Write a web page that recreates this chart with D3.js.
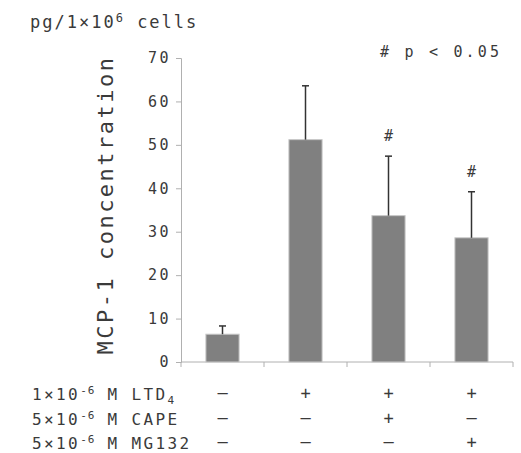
<!DOCTYPE html>
<html lang="en">
<head>
<meta charset="UTF-8">
<title>MCP-1 concentration</title>
<script src="https://d3js.org/d3.v7.min.js"></script>
<style>
  body { margin: 0; background: #fff; }
  svg text { font-family: "DejaVu Sans Mono", monospace; fill: #3a3a3a; }
</style>
</head>
<body>
<div id="chart"></div>
<script>
// data
const groups = ["control", "LTD4", "LTD4+CAPE", "LTD4+MG132"];
const means = [6.4, 51.2, 33.7, 28.6];
const errors = [1.9, 12.4, 13.7, 10.6];
const marks = ["", "", "#", "#"];
const yTicks = [0, 10, 20, 30, 40, 50, 60, 70];
const rowLabels = ["LTD", "CAPE", "MG132"];
const rowConc = ["1", "5", "5"];
const rowSigns = [
  ["—", "+", "+", "+"],
  ["—", "—", "+", "—"],
  ["—", "—", "—", "+"]
];

const W = 521, H = 453;
const margin = {top: 58, right: 8, bottom: 91, left: 181};

const svg = d3.select("#chart").append("svg")
  .attr("width", W)
  .attr("height", H);

const x = d3.scaleBand()
  .domain(groups)
  .range([margin.left, W - margin.right])
  .paddingInner(0.6)
  .paddingOuter(0.3);

const y = d3.scaleLinear()
  .domain([0, 70])
  .range([H - margin.bottom, margin.top]);

// y axis
const yAxis = svg.append("g")
  .attr("transform", "translate(" + margin.left + ",0)")
  .call(d3.axisLeft(y).tickValues(yTicks).tickSize(5).tickPadding(5));
yAxis.select(".domain").attr("stroke", "#b0b0b0");
yAxis.selectAll(".tick line").attr("stroke", "#b0b0b0");
yAxis.selectAll(".tick text")
  .attr("font-size", 15)
  .attr("font-family", "DejaVu Sans Mono")
  .attr("letter-spacing", 2.5)
  .attr("fill", "#3a3a3a");

// x axis line with category dividers
const xEdges = d3.range(groups.length + 1).map(i => margin.left + i * (W - margin.right - margin.left) / groups.length);
svg.append("line")
  .attr("x1", margin.left).attr("x2", W - margin.right)
  .attr("y1", y(0)).attr("y2", y(0))
  .attr("stroke", "#b0b0b0");
svg.selectAll(".xtick")
  .data(xEdges)
  .enter().append("line")
  .attr("x1", d => d).attr("x2", d => d)
  .attr("y1", y(0)).attr("y2", y(0) + 5)
  .attr("stroke", "#b0b0b0");

// bars
svg.selectAll(".bar")
  .data(groups)
  .enter().append("rect")
  .attr("x", d => x(d))
  .attr("y", (d, i) => y(means[i]))
  .attr("width", x.bandwidth())
  .attr("height", (d, i) => y(0) - y(means[i]))
  .attr("fill", "#808080")
  .attr("stroke", "#c8c8c8")
  .attr("stroke-width", 1);

// error bars
const cx = d => x(d) + x.bandwidth() / 2;
svg.selectAll(".err")
  .data(groups)
  .enter().append("line")
  .attr("x1", cx).attr("x2", cx)
  .attr("y1", (d, i) => y(means[i]))
  .attr("y2", (d, i) => y(means[i] + errors[i]))
  .attr("stroke", "#333")
  .attr("stroke-width", 1.5);
svg.selectAll(".cap")
  .data(groups)
  .enter().append("line")
  .attr("x1", d => cx(d) - 3.5).attr("x2", d => cx(d) + 3.5)
  .attr("y1", (d, i) => y(means[i] + errors[i]))
  .attr("y2", (d, i) => y(means[i] + errors[i]))
  .attr("stroke", "#333")
  .attr("stroke-width", 1.5);

// significance marks
svg.selectAll(".mark")
  .data(groups)
  .enter().append("text")
  .attr("x", cx)
  .attr("y", (d, i) => y(means[i] + errors[i]) - 15)
  .attr("text-anchor", "middle")
  .attr("font-size", 15)
  .text((d, i) => marks[i]);

// unit and legend notes
const unit = svg.append("text")
  .attr("x", 30).attr("y", 28)
  .attr("font-size", 17)
  .attr("letter-spacing", 2);
unit.append("tspan").text("pg/1×10");
unit.append("tspan").attr("font-size", 12).attr("dy", -6).text("6");
unit.append("tspan").attr("dy", 6).text(" cells");

svg.append("text")
  .attr("x", 380).attr("y", 57)
  .attr("font-size", 15)
  .attr("letter-spacing", 3.2)
  .text("# p < 0.05");

// y axis title
svg.append("text")
  .attr("transform", "translate(113," + ((y(0) + y(70)) / 2 - 5) + ") rotate(-90)")
  .attr("text-anchor", "middle")
  .attr("font-size", 22)
  .attr("letter-spacing", 2.5)
  .text("MCP-1  concentration");

// treatment table
const rowY = d3.scalePoint()
  .domain(rowLabels)
  .range([400, 449]);
rowLabels.forEach((lab, r) => {
  const t = svg.append("text")
    .attr("x", 32).attr("y", rowY(lab))
    .attr("font-size", 16)
    .attr("letter-spacing", 2.4);
  t.append("tspan").text(rowConc[r] + "×10");
  t.append("tspan").attr("font-size", 11).attr("dy", -6).attr("letter-spacing", 1).text("-6");
  t.append("tspan").attr("dy", 6).text(" M " + lab);
  if (lab === "LTD") {
    t.append("tspan").attr("font-size", 11).attr("dy", 4).text("4");
  }
  svg.selectAll(".sign" + r)
    .data(groups)
    .enter().append("text")
    .attr("x", cx)
    .attr("y", rowY(lab) - 1)
    .attr("text-anchor", "middle")
    .attr("font-size", 17)
    .attr("font-family", "DejaVu Sans")
    .text((d, i) => rowSigns[r][i]);
});
</script>
</body>
</html>
